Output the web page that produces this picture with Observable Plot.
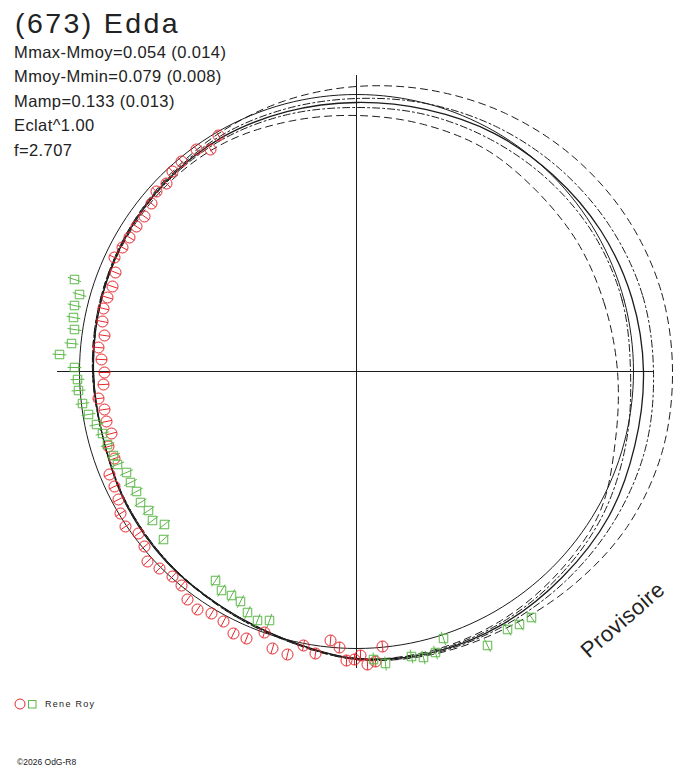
<!DOCTYPE html>
<html>
<head>
<meta charset="utf-8">
<script src="https://cdn.jsdelivr.net/npm/d3@7"></script>
<script src="https://cdn.jsdelivr.net/npm/@observablehq/plot@0.6"></script>
<style>
  body { margin: 0; background: #fff; overflow: hidden; }
  #wrap { position: relative; width: 688px; height: 768px; font-family: Arial, "Liberation Sans", sans-serif; color: #222; }
  #chart { position: absolute; left: 0; top: 0; }
  .t { position: absolute; white-space: nowrap; line-height: 1; }
  #title { left: 15px; top: 8.5px; font-size: 28.5px; letter-spacing: 2.4px; }
  .stat { left: 14px; font-size: 16.5px; letter-spacing: 0.4px; }
  #prov { left: 623px; top: 620px; font-size: 22px; letter-spacing: 0.5px; transform: translate(-50%, -50%) rotate(-41deg); }
  #legend { left: 14px; top: 698px; font-size: 9px; letter-spacing: 1.3px; display: flex; align-items: center; }
  #legend svg { margin-right: 7px; }
  #copy { left: 17px; top: 758px; font-size: 8.5px; }
</style>
</head>
<body>
<div id="wrap">
  <div id="chart"></div>
  <div class="t" id="title">(673) Edda</div>
  <div class="t stat" style="top:43.5px">Mmax-Mmoy=0.054 (0.014)</div>
  <div class="t stat" style="top:68px">Mmoy-Mmin=0.079 (0.008)</div>
  <div class="t stat" style="top:92.5px">Mamp=0.133 (0.013)</div>
  <div class="t stat" style="top:117px">Eclat^1.00</div>
  <div class="t stat" style="top:141.5px">f=2.707</div>
  <div class="t" id="prov">Provisoire</div>
  <div class="t" id="legend">
    <svg width="24" height="12"><circle cx="6" cy="6" r="5" fill="none" stroke="#e8262c"/><rect x="14.5" y="2.5" width="7.5" height="7.5" fill="none" stroke="#5cb848"/></svg>
    <span>Rene Roy</span>
  </div>
  <div class="t" id="copy">©2026 OdG-R8</div>
</div>
<script>
// phase angles (deg) where the fitted curves are sampled
const angles = [0, 15, 30, 45, 60, 75, 90, 105, 120, 135, 150, 165,
                180, 195, 210, 225, 240, 255, 270, 285, 300, 315, 330, 345]

// radius of the mean-magnitude circle
const meanRadius = 277

// fitted curve radii at each angle
const fitMain      = [287, 285, 282, 278, 275, 271, 269, 269, 270, 269, 267, 265, 263, 262, 266, 269, 271, 277, 287, 291, 292, 291, 291, 288]
const fitDashOut   = [316, 315, 311, 305, 298, 291, 285, 280, 275, 271, 268, 266, 264, 262, 266, 269, 272, 278, 288, 293, 297, 304, 312, 316]
const fitDashIn    = [261, 257, 256, 255, 257, 256, 256, 259, 264, 266, 266, 265, 263, 262, 265, 268, 271, 277, 287, 289, 288, 285, 281, 268]
const fitDotOut    = [297, 296, 292, 287, 282, 277, 273, 272, 272, 270, 268, 266, 264, 262, 265, 268, 272, 278, 288, 292, 294, 296, 298, 299]
const fitDotIn     = [274, 275, 274, 271, 268, 266, 264, 266, 268, 268, 267, 265, 263, 262, 265, 268, 271, 277, 287, 290, 290, 288, 285, 279]

// observations (polar position), session 1 (red circles)
const session1 = [[-138,236],[-160,222],[-146,222],[-175,210],[-184,200],[-190,188],[-200,180],[-205,168],[-212,155],[-220,145],
  [-227,134],[-234,124],[-242,114],[-241,99],[-244,85],[-249,74],[-253,63],[-254,50],[-252,36],[-258,24],
  [-255,12],[-252,-1],[-253,-13],[-258,-27],[-252,-38],[-250,-50],[-245,-62],[-248,-75],[-242,-87],[-247,-103],
  [-242,-115],[-238,-128],[-236,-142],[-231,-155],[-218,-162],[-212,-175],[-209,-190],[-197,-197],[-184,-205],[-175,-214],
  [-169,-228],[-159,-238],[-145,-242],[-133,-250],[-123,-262],[-110,-267],[-92,-261],[-84,-277],[-69,-283],[-53,-274],
  [-41,-282],[-26,-269],[-17,-276],[-10,-289],[-2,-288],[4,-284],[11,-293],[19,-290],[26,-275]]

// session 2 (green squares)
const session2 = [[-282,92],[-277,77],[-282,66],[-283,54],[-282,42],[-285,28],[-297,17],[-282,4],[-279,-8],[-278,-19],
  [-274,-32],[-268,-43],[-260,-53],[-254,-62],[-249,-73],[-243,-84],[-239,-93],[-230,-101],[-226,-111],[-220,-120],
  [-216,-131],[-208,-139],[-204,-149],[-192,-153],[-193,-168],[-141,-209],[-135,-219],[-125,-224],[-116,-230],[-109,-241],
  [-99,-249],[-87,-249],[17,-288],[29,-292],[55,-285],[67,-286],[79,-281],[87,-267],[131,-274],[151,-258],
  [163,-253],[175,-246]]

const axisHalf = 298

const ink = "#1c1c1c"
const red = "#e8262c"
const green = "#5cb848"

function polar(radii) {
  return angles.map((a, i) => {
    const t = a * Math.PI / 180
    return {x: radii[i] * Math.cos(t), y: radii[i] * Math.sin(t)}
  })
}

function pts(list) {
  return list.map(([x, y]) => {
    const l = Math.hypot(x, y)
    return {x, y, ux: x / l, uy: y / l}
  })
}

const s1 = pts(session1)
const s2 = pts(session2)
const circle = polar(angles.map(() => meanRadius))

function ticks(rows, half) {
  return rows.map(d => ({x1: d.x - d.ux * half, y1: d.y - d.uy * half, x2: d.x + d.ux * half, y2: d.y + d.uy * half}))
}

const chart = Plot.plot({
  width: 688,
  height: 768,
  margin: 0,
  x: {domain: [-356, 332], range: [0, 688], axis: null},
  y: {domain: [-397, 371], range: [768, 0], axis: null},
  style: {background: "#fff"},
  marks: [
    Plot.ruleY([{y: 0, x1: -axisHalf - 1, x2: axisHalf}], {y: "y", x1: "x1", x2: "x2", stroke: ink, strokeWidth: 1}),
    Plot.ruleX([{x: 0, y1: -axisHalf + 1, y2: axisHalf - 2}], {x: "x", y1: "y1", y2: "y2", stroke: ink, strokeWidth: 1}),
    Plot.line(circle, {x: "x", y: "y", curve: "catmull-rom-closed", stroke: ink, strokeWidth: 1}),
    Plot.line(polar(fitDashOut), {x: "x", y: "y", curve: "catmull-rom-closed", stroke: ink, strokeWidth: 1, strokeDasharray: "7,5"}),
    Plot.line(polar(fitDashIn), {x: "x", y: "y", curve: "catmull-rom-closed", stroke: ink, strokeWidth: 1, strokeDasharray: "7,5"}),
    Plot.line(polar(fitDotOut), {x: "x", y: "y", curve: "catmull-rom-closed", stroke: ink, strokeWidth: 1, strokeDasharray: "7,3,2,3"}),
    Plot.line(polar(fitDotIn), {x: "x", y: "y", curve: "catmull-rom-closed", stroke: ink, strokeWidth: 1, strokeDasharray: "7,3,2,3"}),
    Plot.line(polar(fitMain), {x: "x", y: "y", curve: "catmull-rom-closed", stroke: ink, strokeWidth: 1.3}),
    Plot.link(ticks(s1, 5.5), {x1: "x1", y1: "y1", x2: "x2", y2: "y2", stroke: red, strokeWidth: 1}),
    Plot.dot(s1, {x: "x", y: "y", r: 5.5, stroke: red, fill: "none", strokeWidth: 1}),
    Plot.link(ticks(s2, 7), {x1: "x1", y1: "y1", x2: "x2", y2: "y2", stroke: green, strokeWidth: 1}),
    Plot.dot(s2, {x: "x", y: "y", r: 4.8, symbol: "square", stroke: green, fill: "none", strokeWidth: 1})
  ]
})

d3.select("#chart").append(() => chart)
</script>
</body>
</html>
